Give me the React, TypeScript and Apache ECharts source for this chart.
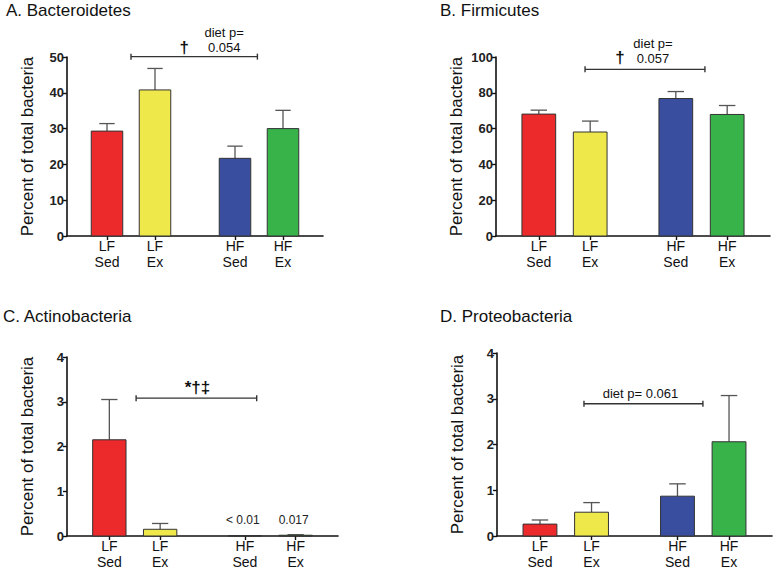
import React, { useEffect, useRef } from 'react';
import * as echarts from 'echarts';

// ---- data ----
const groupLabels = ['LF\nSed', 'LF\nEx', 'HF\nSed', 'HF\nEx'];
const groupSlots = [2, 5, 10, 13];
const slotCount = 16;
const barColors = ['#EC2A2C', '#EEE84B', '#3A4EA0', '#37B34A'];

const panelTitles = ['A. Bacteroidetes', 'B. Firmicutes', 'C. Actinobacteria', 'D. Proteobacteria'];
const yAxisTitle = 'Percent of total bacteria';

const bacteroidetesMean = [29.3, 40.8, 21.7, 30.0];
const bacteroidetesSem = [2.1, 6.0, 3.4, 5.1];
const firmicutesMean = [68.1, 58.1, 76.8, 67.9];
const firmicutesSem = [2.2, 6.1, 3.9, 5.0];
const actinobacteriaMean = [2.15, 0.15, 0.005, 0.017];
const actinobacteriaSem = [0.9, 0.13, 0.003, 0.012];
const proteobacteriaMean = [0.26, 0.52, 0.87, 2.06];
const proteobacteriaSem = [0.09, 0.21, 0.27, 1.01];

const barNotesA = ['', '', '', ''];
const barNotesB = ['', '', '', ''];
const barNotesC = ['', '', '< 0.01', '0.017'];
const barNotesD = ['', '', '', ''];

const yMaxes = [50, 100, 4, 4];
const yIntervals = [10, 20, 1, 1];

// significance brackets (level in data units, span in axis slot units)
const bracketLevels = [50.1, 93.1, 3.08, 2.89];
const bracketFrom = [4.0, 5.2, 4.08, 5.06];
const bracketTo = [11.9, 12.2, 11.2, 11.98];
const bracketTextsA = ['†', 'diet p=', '0.054'];
const bracketTextsB = ['†', 'diet p=', '0.057'];
const bracketTextsC = ['*†‡'];
const bracketTextsD = ['diet p= 0.061'];

// ---- layout / style (not data) ----
const grids = [
  { left: 67, top: 57, width: 256, height: 179 },
  { left: 496, top: 57, width: 274, height: 179 },
  { left: 67, top: 357, width: 271, height: 179 },
  { left: 497, top: 353, width: 275, height: 183 },
];
const titlePos = [
  { left: 6, top: 2 },
  { left: 440, top: 2 },
  { left: 3, top: 308 },
  { left: 440, top: 308 },
];
const NARROW = '"Liberation Sans Narrow", "Arial Narrow", "Liberation Sans", Arial, sans-serif';
const SANS = '"Liberation Sans", Arial, Helvetica, sans-serif';
const bracketTextStyle = [
  [ { dx: -10, dy: -9, font: `bold 17px ${SANS}` }, { dx: 30, dy: -24, font: `13px ${NARROW}` }, { dx: 30, dy: -9, font: `13px ${NARROW}` } ],
  [ { dx: -25, dy: -12, font: `bold 17px ${SANS}` }, { dx: 8, dy: -26, font: `13px ${NARROW}` }, { dx: 8, dy: -11, font: `13px ${NARROW}` } ],
  [ { dx: 1, dy: -11, font: `bold 17px ${SANS}` } ],
  [ { dx: -3, dy: -10, font: `13px ${NARROW}` } ],
];

const means = [bacteroidetesMean, firmicutesMean, actinobacteriaMean, proteobacteriaMean];
const sems = [bacteroidetesSem, firmicutesSem, actinobacteriaSem, proteobacteriaSem];
const barNotes = [barNotesA, barNotesB, barNotesC, barNotesD];
const bracketTexts = [bracketTextsA, bracketTextsB, bracketTextsC, bracketTextsD];

const categories = Array.from({ length: slotCount }, (_, i) => {
  const g = groupSlots.indexOf(i);
  return g >= 0 ? groupLabels[g] : '';
});

function buildOption() {
  const xAxis: any[] = [];
  const yAxis: any[] = [];
  const series: any[] = [];

  for (let p = 0; p < 4; p++) {
    xAxis.push({
      type: 'category',
      gridIndex: p,
      data: categories,
      boundaryGap: true,
      axisLine: { show: true, lineStyle: { color: '#111', width: 1.6 } },
      axisTick: {
        show: true,
        alignWithLabel: true,
        length: 4,
        interval: (idx: number) => groupSlots.indexOf(idx) >= 0,
        lineStyle: { color: '#111', width: 1.4 },
      },
      axisLabel: {
        interval: 0,
        color: '#111',
        fontSize: 14,
        lineHeight: 16,
        margin: 2,
        fontFamily: SANS,
      },
      splitLine: { show: false },
    });
    yAxis.push({
      type: 'value',
      gridIndex: p,
      min: 0,
      max: yMaxes[p],
      interval: yIntervals[p],
      name: yAxisTitle,
      nameLocation: 'middle',
      nameGap: 31,
      nameRotate: 90,
      nameTextStyle: { fontSize: 17, color: '#111', fontFamily: SANS },
      axisLine: { show: true, lineStyle: { color: '#111', width: 1.6 } },
      axisTick: { show: true, length: 4, lineStyle: { color: '#111', width: 1.4 } },
      axisLabel: { color: '#222', fontSize: 13, fontWeight: 'bold', margin: 3, fontFamily: SANS },
      splitLine: { show: false },
    });

    const m = means[p];
    const s = sems[p];
    const notes = barNotes[p];
    series.push({
      type: 'custom',
      xAxisIndex: p,
      yAxisIndex: p,
      data: m.map((v, g) => [groupSlots[g], v, s[g], g]),
      encode: { x: 0, y: 1 },
      clip: false,
      renderItem: (params: any, api: any) => {
        const slot = api.value(0);
        const mean = api.value(1);
        const sem = api.value(2);
        const g = api.value(3);
        const slotW = api.size([1, 0])[0];
        const base = api.coord([slot, 0]);
        const top = api.coord([slot, mean]);
        const errTop = api.coord([slot, mean + sem]);
        const w = slotW * 1.97;
        const cx = base[0];
        const capHalf = slotW * 0.48;
        const children: any[] = [
          {
            type: 'line',
            shape: { x1: cx, y1: top[1], x2: cx, y2: errTop[1] },
            style: { stroke: '#555', lineWidth: 1.3 },
          },
          {
            type: 'line',
            shape: { x1: cx - capHalf, y1: errTop[1], x2: cx + capHalf, y2: errTop[1] },
            style: { stroke: '#555', lineWidth: 1.3 },
          },
          {
            type: 'rect',
            shape: { x: cx - w / 2, y: top[1], width: w, height: base[1] - top[1] },
            style: { fill: barColors[g], stroke: '#333', lineWidth: 1 },
          },
        ];
        if (notes[g]) {
          children.push({
            type: 'text',
            x: cx - 2,
            y: base[1] - 16,
            style: {
              text: notes[g],
              font: `12px ${SANS}`,
              fill: '#222',
              align: 'center',
              verticalAlign: 'middle',
              textAlign: 'center',
              textVerticalAlign: 'middle',
            },
          });
        }
        return { type: 'group', children };
      },
      z: 3,
    });

    const texts = bracketTexts[p];
    const tstyles = bracketTextStyle[p];
    series.push({
      type: 'custom',
      xAxisIndex: p,
      yAxisIndex: p,
      data: [[0, bracketLevels[p]]],
      encode: { x: 0, y: 1 },
      clip: false,
      renderItem: (params: any, api: any) => {
        const slotW = api.size([1, 0])[0];
        const x0 = api.coord([0, 0])[0] - slotW / 2;
        const y = api.coord([0, api.value(1)])[1];
        const xs = x0 + bracketFrom[p] * slotW;
        const xe = x0 + bracketTo[p] * slotW;
        const xc = (xs + xe) / 2;
        const st = { stroke: '#333', lineWidth: 1.4 };
        const children: any[] = [
          { type: 'line', shape: { x1: xs, y1: y, x2: xe, y2: y }, style: st },
          { type: 'line', shape: { x1: xs, y1: y - 3, x2: xs, y2: y + 3 }, style: st },
          { type: 'line', shape: { x1: xe, y1: y - 3, x2: xe, y2: y + 3 }, style: st },
        ];
        texts.forEach((t, i) => {
          const ts = tstyles[i];
          children.push({
            type: 'text',
            x: xc + ts.dx,
            y: y + ts.dy,
            style: {
              text: t,
              font: ts.font,
              fill: '#111',
              align: 'center',
              verticalAlign: 'middle',
              textAlign: 'center',
              textVerticalAlign: 'middle',
            },
          });
        });
        return { type: 'group', children };
      },
      z: 4,
    });
  }

  return {
    animation: false,
    backgroundColor: '#ffffff',
    textStyle: { fontFamily: SANS },
    title: panelTitles.map((t, i) => ({
      text: t,
      left: titlePos[i].left,
      top: titlePos[i].top,
      padding: 0,
      textStyle: { fontSize: 17, fontWeight: 'normal', color: '#111', fontFamily: SANS },
    })),
    grid: grids.map((g) => ({ ...g, containLabel: false })),
    xAxis,
    yAxis,
    series,
  };
}

export default function App() {
  const ref = useRef<HTMLDivElement>(null);
  useEffect(() => {
    document.body.style.margin = '0';
    if (!ref.current) return;
    const chart = echarts.init(ref.current, undefined, { renderer: 'svg' });
    chart.setOption(buildOption() as any);
    return () => chart.dispose();
  }, []);
  return (
    <div
      ref={ref}
      style={{ position: 'absolute', left: 0, top: 0, width: 777, height: 575, background: '#fff' }}
    />
  );
}
